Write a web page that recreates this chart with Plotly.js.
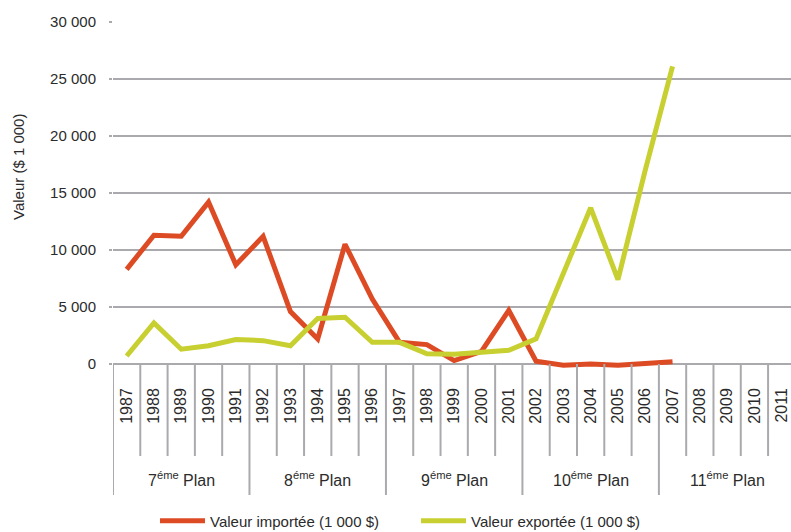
<!DOCTYPE html>
<html>
<head>
<meta charset="utf-8">
<script src="https://cdn.plot.ly/plotly-3.0.1.min.js"></script>
<style>
  html, body { margin: 0; padding: 0; background: #fff; overflow: hidden; }
  #chart { width: 791px; height: 532px; }
</style>
</head>
<body>
<div id="chart"></div>
<script>
// ---- Data ----
const years = ['1987','1988','1989','1990','1991','1992','1993','1994','1995','1996',
               '1997','1998','1999','2000','2001','2002','2003','2004','2005','2006',
               '2007','2008','2009','2010','2011'];
const importValues = [8300, 11300, 11200, 14200, 8700, 11200, 4600, 2200, 10500, 5700,
                      1900, 1700, 300, 1100, 4700, 250, -100, 0, -100, 50,
                      200, null, null, null, null];
const exportValues = [700, 3600, 1300, 1600, 2150, 2050, 1600, 4000, 4100, 1900,
                      1900, 900, 850, 1000, 1200, 2200, 8000, 13700, 7400, 17000,
                      26100, null, null, null, null];
const planNumbers = ['7', '8', '9', '10', '11'];
const planLabelSuffix = 'éme';
const yearsPerPlan = 5;
const seriesNames = ['Valeur importée (1 000 $)', 'Valeur exportée (1 000 $)'];
const yTitle = 'Valeur ($ 1 000)';
const yTicks = [0, 5000, 10000, 15000, 20000, 25000, 30000];

// ---- Geometry ----
const W = 791, H = 532;
const M = {l: 113, r: 0, t: 22, b: 164, autoexpand: false};
const plotH = H - M.t - M.b;
const plotW = W - M.l - M.r;
const paperY = px => (H - M.b - px) / plotH;
const paperX = px => (px - M.l) / plotW;

const font = 'Liberation Sans, Arial, sans-serif';
const gridCol = '#aaaaae';
const textCol = '#2b2b2b';

const traces = [
  {x: years, y: importValues, name: seriesNames[0], type: 'scatter', mode: 'lines',
   line: {color: '#dd4b25', width: 5}, connectgaps: false},
  {x: years, y: exportValues, name: seriesNames[1], type: 'scatter', mode: 'lines',
   line: {color: '#c8d031', width: 5}, connectgaps: false}
];

// dividers between year categories
const shapes = [];
for (let i = 0; i < years.length; i++) {
  const isPlanEdge = i % yearsPerPlan === 0;
  shapes.push({
    type: 'line', xref: 'x', yref: 'paper',
    x0: i - 0.5, x1: i - 0.5,
    y0: paperY(364), y1: paperY(isPlanEdge ? 495 : 456),
    line: {color: gridCol, width: 2}
  });
}

const annotations = planNumbers.map((p, k) => ({
  xref: 'x', yref: 'paper',
  x: k * yearsPerPlan + (yearsPerPlan - 1) / 2,
  y: paperY(479), yanchor: 'middle', xanchor: 'center',
  text: p + '<sup>' + planLabelSuffix + '</sup> Plan',
  showarrow: false,
  font: {family: font, size: 16, color: textCol}
}));
annotations.push({
  xref: 'paper', yref: 'paper',
  x: paperX(18), y: paperY(167), xanchor: 'center', yanchor: 'middle',
  text: yTitle, textangle: -90, showarrow: false,
  font: {family: font, size: 15, color: textCol}
});

const layout = {
  width: W, height: H,
  margin: M,
  paper_bgcolor: '#ffffff', plot_bgcolor: '#ffffff',
  separators: ', ',
  showlegend: true,
  legend: {
    orientation: 'h', x: paperX(155), y: paperY(521),
    xanchor: 'left', yanchor: 'middle',
    entrywidth: 201, entrywidthmode: 'pixels',
    itemwidth: 45,
    font: {family: font, size: 15, color: textCol},
    bgcolor: 'rgba(0,0,0,0)'
  },
  xaxis: {
    type: 'category', categoryorder: 'array', categoryarray: years,
    range: [-0.5, 24.34],
    showgrid: false, zeroline: false, showline: false,
    ticks: '', tickangle: -90,
    ticklabelstandoff: 16,
    tickfont: {family: font, size: 16, color: textCol},
    fixedrange: true
  },
  yaxis: {
    range: [-351, 30000],
    tickmode: 'array', tickvals: yTicks,
    tickformat: ',d',
    showgrid: true, gridcolor: gridCol, gridwidth: 2,
    zeroline: false, showline: false,
    ticks: 'outside', ticklen: 3, tickwidth: 2, tickcolor: gridCol,
    ticklabelstandoff: 10,
    tickfont: {family: font, size: 15, color: textCol},
    fixedrange: true
  },
  shapes: shapes,
  annotations: annotations
};

Plotly.newPlot('chart', traces, layout, {displayModeBar: false, staticPlot: true});
</script>
</body>
</html>
